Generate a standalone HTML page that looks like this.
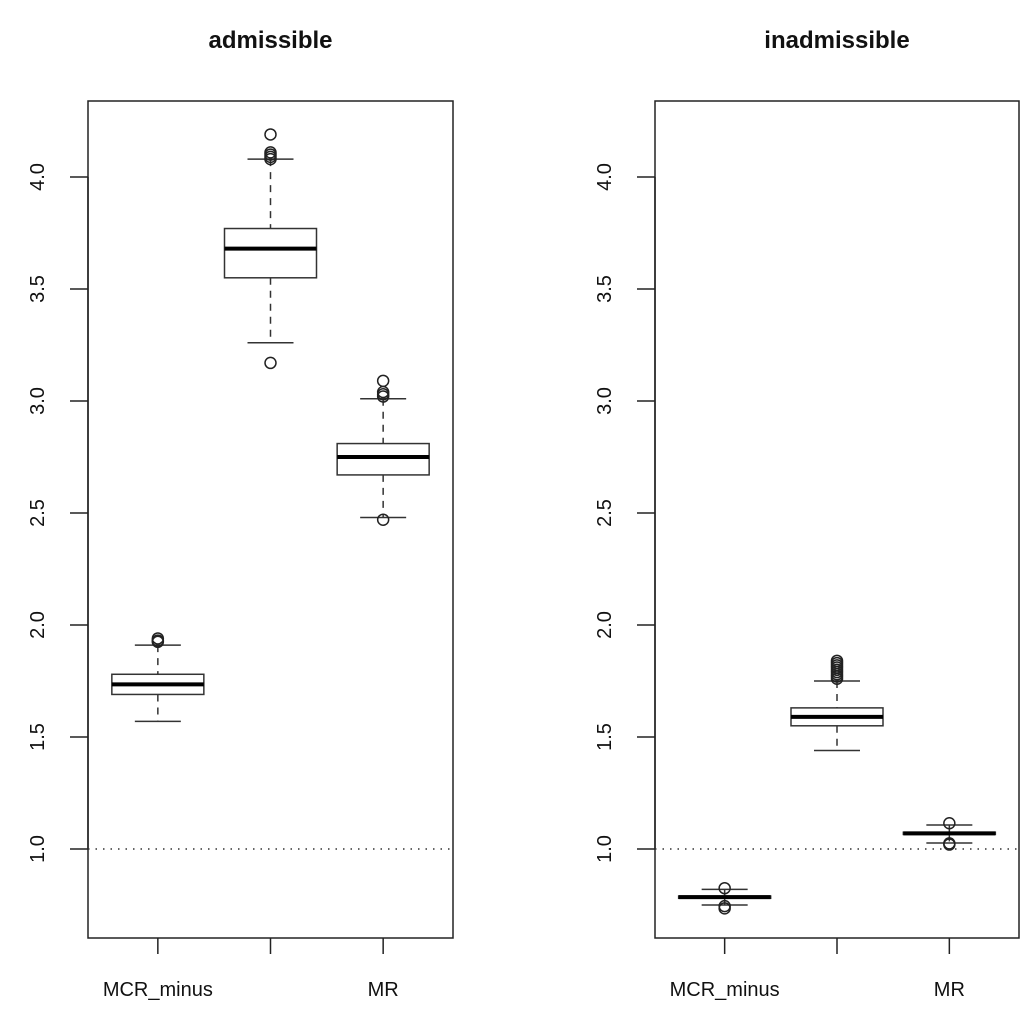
<!DOCTYPE html>
<html><head><meta charset="utf-8"><style>body{margin:0;background:#fff}svg{display:block}text{font-family:"Liberation Sans",sans-serif;fill:#111}</style></head>
<body>
<svg id="chart" width="1036" height="1026" xmlns="http://www.w3.org/2000/svg"></svg>
<script>
const categories = ["MCR_minus", "MCR", "MR"];
const xLabels = ["MCR_minus", "", "MR"];
const yTicks = [1.0, 1.5, 2.0, 2.5, 3.0, 3.5, 4.0];
const yTickLabels = ["1.0", "1.5", "2.0", "2.5", "3.0", "3.5", "4.0"];
const panelTitles = ["admissible", "inadmissible"];
// [whiskerLow, q1, median, q3, whiskerHigh]
const admissibleStats = [[1.57, 1.69, 1.735, 1.78, 1.91], [3.26, 3.55, 3.68, 3.77, 4.08], [2.48, 2.67, 2.75, 2.81, 3.01]];
const admissibleOutliers = [[1.93, 1.94, 1.925], [4.19, 4.09, 4.10, 4.11, 4.08, 3.17], [3.09, 3.03, 3.02, 3.04, 2.47]];
const inadmissibleStats = [[0.75, 0.78, 0.785, 0.79, 0.82], [1.44, 1.55, 1.59, 1.63, 1.75], [1.027, 1.065, 1.07, 1.075, 1.107]];
const inadmissibleOutliers = [[0.825, 0.745, 0.735], [1.76, 1.77, 1.78, 1.79, 1.80, 1.81, 1.82, 1.83, 1.84], [1.115, 1.02, 1.025]];
const refLine = 1.0;

const svg = document.getElementById('chart');
const NS = 'http://www.w3.org/2000/svg';
function mk(tag, attrs, parent) {
  const e = document.createElementNS(NS, tag);
  for (const k in attrs) e.setAttribute(k, attrs[k]);
  (parent || svg).appendChild(e);
  return e;
}
const yTop = 101, yBot = 938;
function yScale(v) { return 849 - (v - 1) * 224; }

const panels = [
  {left: 88, right: 453, stats: admissibleStats, outl: admissibleOutliers, title: panelTitles[0], name: 'admissible'},
  {left: 655, right: 1019, stats: inadmissibleStats, outl: inadmissibleOutliers, title: panelTitles[1], name: 'inadmissible'}
];
panels.forEach(p => {
  const g = mk('g', {});
  
  
  const w = p.right - p.left;
  const step = w / 3.24;
  function xScale(i) { return p.left + w / 2 + (i - 1) * step; }
  const t = mk('text', {x: (p.left + p.right) / 2, y: 48, 'text-anchor': 'middle', 'font-size': 24, 'font-weight': 'bold'}, g);
  t.textContent = p.title;
  
  
  const frame = mk('rect', {x: p.left, y: yTop, width: w, height: yBot - yTop, fill: 'none', stroke: '#222', 'stroke-width': 1.5}, g);
  
  
  // y axis
  const ya = mk('g', {}, g);
  
  
  mk('line', {x1: p.left, x2: p.left, y1: yScale(yTicks[0]), y2: yScale(yTicks[yTicks.length - 1]), stroke: '#222', 'stroke-width': 1.5}, ya);
  yTicks.forEach((v, i) => {
    const y = yScale(v);
    mk('line', {x1: p.left - 18, x2: p.left, y1: y, y2: y, stroke: '#222', 'stroke-width': 1.5}, ya);
    const lx = p.left - 44;
    const tl = mk('text', {x: lx, y: y, 'text-anchor': 'middle', 'font-size': 20, transform: `rotate(-90 ${lx} ${y})`}, ya);
    tl.textContent = yTickLabels[i];
    
    
  });
  // x axis
  const xa = mk('g', {}, g);
  
  
  categories.forEach((c, i) => {
    const x = xScale(i);
    mk('line', {x1: x, x2: x, y1: yBot, y2: yBot + 16, stroke: '#222', 'stroke-width': 1.5}, xa);
    if (xLabels[i]) {
      const tl = mk('text', {x: x, y: 996, 'text-anchor': 'middle', 'font-size': 20}, xa);
      tl.textContent = xLabels[i];
      
      
    }
  });
  // reference line
  const rl = mk('line', {x1: p.left, x2: p.right, y1: yScale(refLine), y2: yScale(refLine), stroke: '#333', 'stroke-width': 1.5, 'stroke-dasharray': '1.5 6'}, g);
  
  
  // boxes
  p.stats.forEach((s, i) => {
    const bx = mk('g', {}, g);
    
    
    const x = xScale(i), hw = 46, cw = 23;
    mk('line', {x1: x, x2: x, y1: yScale(s[4]), y2: yScale(s[3]), stroke: '#333', 'stroke-width': 1.5, 'stroke-dasharray': '7 6'}, bx);
    mk('line', {x1: x, x2: x, y1: yScale(s[1]), y2: yScale(s[0]), stroke: '#333', 'stroke-width': 1.5, 'stroke-dasharray': '7 6'}, bx);
    mk('line', {x1: x - cw, x2: x + cw, y1: yScale(s[4]), y2: yScale(s[4]), stroke: '#333', 'stroke-width': 1.5}, bx);
    mk('line', {x1: x - cw, x2: x + cw, y1: yScale(s[0]), y2: yScale(s[0]), stroke: '#333', 'stroke-width': 1.5}, bx);
    mk('rect', {x: x - hw, y: yScale(s[3]), width: 2 * hw, height: Math.max(0.5, yScale(s[1]) - yScale(s[3])), fill: '#fff', stroke: '#333', 'stroke-width': 1.5}, bx);
    mk('line', {x1: x - hw, x2: x + hw, y1: yScale(s[2]), y2: yScale(s[2]), stroke: '#000', 'stroke-width': 4}, bx);
    p.outl[i].forEach(v => {
      const c = mk('circle', {cx: x, cy: yScale(v), r: 5.5, fill: 'none', stroke: '#222', 'stroke-width': 1.5}, bx);
      
      
    });
  });
});
</script>
</body></html>
